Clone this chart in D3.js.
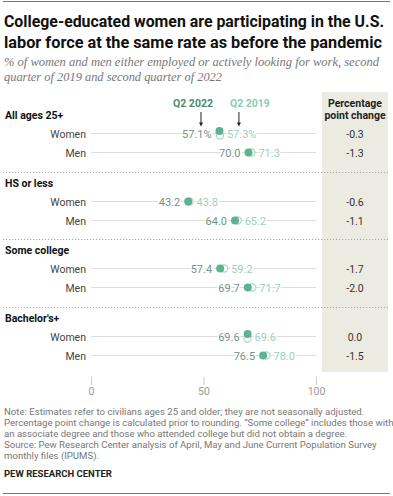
<!DOCTYPE html>
<html><head><meta charset="utf-8">
<script src="https://cdn.jsdelivr.net/npm/d3@7"></script>
<style>body{margin:0;background:#fff;}svg{display:block;}</style>
</head><body>
<svg id="chart" width="393" height="496"></svg>
<script>
const groups = ["All ages 25+", "HS or less", "Some college", "Bachelor's+"];
const sexes = ["Women", "Men"];
const q2022 = [[57.1, 70.0], [43.2, 64.0], [57.4, 69.7], [69.6, 76.5]];
const q2019 = [[57.3, 71.3], [43.8, 65.2], [59.2, 71.7], [69.6, 78.0]];
const change = [["-0.3", "-1.3"], ["-0.6", "-1.1"], ["-1.7", "-2.0"], ["0.0", "-1.5"]];
const xTicks = [0, 50, 100];
const titleLines = ["College-educated women are participating in the U.S.", "labor force at the same rate as before the pandemic"];
const subtitleLines = ["% of women and men either employed or actively looking for work, second", "quarter of 2019 and second quarter of 2022"];
const noteLines = ["Note: Estimates refer to civilians ages 25 and older; they are not seasonally adjusted.",
  "Percentage point change is calculated prior to rounding. \u201cSome college\u201d includes those with",
  "an associate degree and those who attended college but did not obtain a degree.",
  "Source: Pew Research Center analysis of April, May and June Current Population Survey",
  "monthly files (IPUMS)."];

const svg = d3.select("#chart");
const font = "Roboto, 'Liberation Sans', sans-serif";
const c22 = "#5db38f", c19 = "#a6d8c4", lab22 = "#6f9487", lab19 = "#9ccfbc";

svg.append("line").attr("x1",3).attr("x2",390).attr("y1",1.5).attr("y2",1.5).attr("stroke","#777").attr("stroke-width",1);
svg.append("line").attr("x1",3).attr("x2",390).attr("y1",493.5).attr("y2",493.5).attr("stroke","#777").attr("stroke-width",1);

const titleLen = [380, 378];
svg.selectAll(".title").data(titleLines).join("text")
  .attr("x",4).attr("y",(d,i)=>27+i*21).attr("font-family",font).attr("font-weight","bold")
  .attr("font-size",16).attr("fill","#111")
  .attr("textLength",(d,i)=>titleLen[i]).attr("lengthAdjust","spacingAndGlyphs").text(d=>d);
const subLen = [375, 218];
svg.selectAll(".sub").data(subtitleLines).join("text")
  .attr("x",4).attr("y",(d,i)=>66+i*15).attr("font-family","'Liberation Serif', 'DejaVu Serif', serif").attr("font-style","italic")
  .attr("font-size",12).attr("fill","#777")
  .attr("textLength",(d,i)=>subLen[i]).attr("lengthAdjust","spacingAndGlyphs").text(d=>d);

// pct change column
svg.append("rect").attr("x",322).attr("y",92).attr("width",66).attr("height",280).attr("fill","#ecebe2");
svg.append("text").attr("x",355).attr("y",107).attr("text-anchor","middle").attr("font-family",font).attr("font-weight","bold").attr("font-size",10.5).attr("fill","#222").text("Percentage");
svg.append("text").attr("x",355).attr("y",119).attr("text-anchor","middle").attr("font-family",font).attr("font-weight","bold").attr("font-size",10.5).attr("fill","#222").text("point change");

const x = d3.scaleLinear().domain([0,100]).range([91,316]);
const groupY = [115, 183, 250, 318];
const rowOff = [18.5, 37.5];

groups.forEach((g,gi)=>{
  const gy = groupY[gi];
  svg.append("text").attr("x",5).attr("y",gy+4).attr("font-family",font).attr("font-weight","bold").attr("font-size",10.5).attr("fill","#111").text(g);
  if (gi>0) svg.append("line").attr("x1",3).attr("x2",388).attr("y1",gy-10.5).attr("y2",gy-10.5)
     .attr("stroke","#aaa").attr("stroke-dasharray","1.2,1.8").attr("stroke-width",1);
  sexes.forEach((s,si)=>{
    const y = gy + rowOff[si];
    const v22 = q2022[gi][si], v19 = q2019[gi][si];
    svg.append("text").attr("x",86).attr("y",y+4).attr("text-anchor","end").attr("font-family",font).attr("font-size",10.5).attr("fill","#444").text(s);
    svg.append("line").attr("x1",x(0)).attr("x2",x(100)).attr("y1",y).attr("y2",y).attr("stroke","#ddd").attr("stroke-width",1);
    const close = Math.abs(v19-v22) < 0.3;
    const dy22 = close ? -2.5 : 0, dy19 = close ? 2 : 0;
    svg.append("circle").attr("cx",x(v19)).attr("cy",y+dy19).attr("r",3.6).attr("fill","#fff").attr("stroke",c19).attr("stroke-width",1.2);
    svg.append("circle").attr("cx",x(v22)).attr("cy",y+dy22).attr("r",4).attr("fill",c22);
    const pct = gi===0 && si===0 ? "%" : "";
    svg.append("text").attr("x",x(v22)-8).attr("y",y+4).attr("text-anchor","end").attr("font-family",font).attr("font-size",11).attr("fill",lab22).attr("stroke","#fff").attr("stroke-width",3).attr("paint-order","stroke").text(v22.toFixed(1)+pct);
    svg.append("text").attr("x",x(v19)+7).attr("y",y+4).attr("text-anchor","start").attr("font-family",font).attr("font-size",11).attr("fill",lab19).attr("stroke","#fff").attr("stroke-width",3).attr("paint-order","stroke").text(v19.toFixed(1)+pct);
    svg.append("text").attr("x",355).attr("y",y+4).attr("text-anchor","middle").attr("font-family",font).attr("font-size",10.5).attr("fill","#333").text(change[gi][si]);
  });
});

// Q labels and arrows
const a22 = x(q2022[0][0]) - 18.5, a19 = x(q2019[0][0]) + 19;
svg.append("text").attr("x",a22+12).attr("y",107).attr("text-anchor","end").attr("font-family",font).attr("font-weight","bold").attr("font-size",10.5).attr("fill","#4f8a76").text("Q2 2022");
svg.append("text").attr("x",a19-9).attr("y",107).attr("text-anchor","start").attr("font-family",font).attr("font-weight","bold").attr("font-size",10.5).attr("fill","#88cdb2").text("Q2 2019");
[a22, a19].forEach(ax=>{
  svg.append("line").attr("x1",ax).attr("x2",ax).attr("y1",112).attr("y2",124).attr("stroke","#222").attr("stroke-width",1);
  svg.append("path").attr("d",`M${ax-2},${122.5}L${ax+2},${122.5}L${ax},${126.5}Z`).attr("fill","#222");
});

// axis
const axisY = 377;
const axg = svg.append("g").attr("transform",`translate(0,${axisY})`)
  .call(d3.axisBottom(x).tickValues(xTicks).tickSize(8).tickPadding(3));
axg.select(".domain").remove();
axg.selectAll(".tick line").attr("stroke","#ccc");
axg.selectAll(".tick text").attr("font-family",font).attr("font-size",10.5).attr("fill","#999");

svg.selectAll(".note").data(noteLines).join("text")
  .attr("x",4).attr("y",(d,i)=>414.5+i*11).attr("font-family",font).attr("font-size",9.6).attr("fill","#777").text(d=>d);
svg.append("text").attr("x",4).attr("y",477).attr("font-family",font).attr("font-weight","bold").attr("font-size",9.5).attr("fill","#222").text("PEW RESEARCH CENTER");
</script>
</body></html>
